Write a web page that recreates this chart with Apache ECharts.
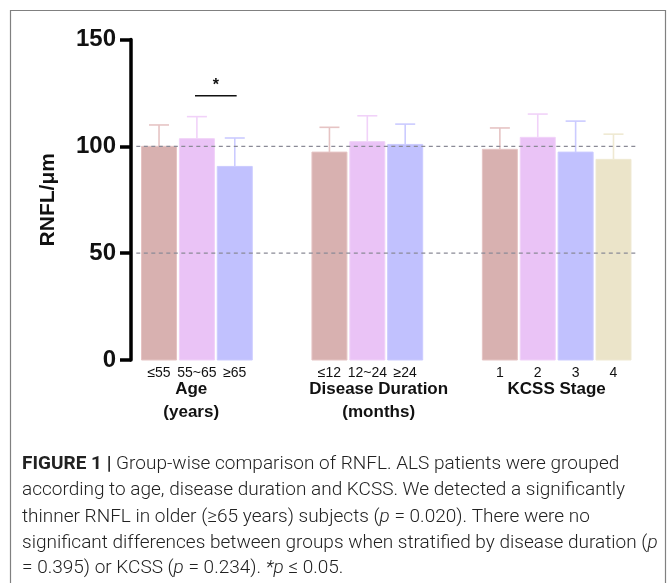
<!DOCTYPE html>
<html>
<head>
<meta charset="utf-8">
<style>html,body{margin:0;padding:0;background:#fff;}#c{width:667px;height:583px;}</style>
<script src="https://cdn.jsdelivr.net/npm/echarts@6/dist/echarts.min.js"></script>
</head>
<body>
<div id="c"></div>
<script>
// ---- data ----
var categories = ['≤55', '55~65', '≥65', '≤12', '12~24', '≥24', '1', '2', '3', '4'];
var positions  = [0, 1, 2, 4.5, 5.5, 6.5, 9, 10, 11, 12];
var means      = [100, 103.6, 90.6, 97.3, 102.2, 100.9, 98.6, 104.2, 97.3, 93.9];
var errTops    = [110, 113.9, 103.9, 108.9, 114.3, 110.4, 108.6, 115.1, 111.8, 105.7];
var colorIdx   = [0, 1, 2, 0, 1, 2, 0, 1, 2, 3];
var groupNames = [['Age', '(years)'], ['Disease Duration', '(months)'], ['KCSS Stage']];
var groupCenters = [0.85, 5.8, 10.5];
var refLines   = [100, 50];
var yTicks     = [0, 50, 100, 150];
var sigPair    = [1, 2];
var sigY       = 123.7;

var barColors = ['#d8b1b0', '#eac3f6', '#c1c1fe', '#ebe4c9'];
var errColors = ['#e6c4c4', '#f1d2f9', '#cbcbff', '#efe9d2'];

var chart = echarts.init(document.getElementById('c'), null, {renderer: 'canvas'});

var barData = positions.map(function (p, i) { return [p, means[i], errTops[i], colorIdx[i], categories[i]]; });

var FS = 19;
function rich() {
  return {
    b: {fontFamily: 'Roboto', fontWeight: 'bold', fontSize: FS, color: '#222'},
    i: {fontFamily: 'Roboto', fontWeight: 300, fontStyle: 'italic', fontSize: FS, color: '#222'}
  };
}
function cap(y, t) {
  return {type: 'text', x: 0, y: y, style: {rich: rich(), text: t, fontFamily: 'Roboto', fontWeight: 300, fontSize: FS, fill: '#222'}};
}

var option = {
  animation: false,
  grid: {left: 131, right: 27, top: 39.5, bottom: 223, containLabel: false},
  xAxis: {
    type: 'value', min: -0.74, max: 12.7,
    axisLine: {show: false}, axisTick: {show: false}, axisLabel: {show: false}, splitLine: {show: false}
  },
  yAxis: {
    type: 'value', min: 0, max: 150, interval: 50,
    name: 'RNFL/μm', nameLocation: 'middle', nameGap: 72, nameRotate: 90,
    nameTextStyle: {fontFamily: 'Liberation Sans', fontWeight: 'bold', fontSize: 21, color: '#111', padding: [0, 0, 0, 0]},
    axisLine: {show: true, onZero: false, lineStyle: {color: '#000', width: 3.5}},
    axisTick: {show: true, length: 11, inside: false, lineStyle: {color: '#000', width: 3.5}},
    axisLabel: {fontFamily: 'Liberation Sans', fontWeight: 'bold', fontSize: 24, color: '#111', margin: 15},
    splitLine: {show: false}
  },
  series: [
    {
      type: 'custom',
      z: 2,
      data: barData,
      renderItem: function (params, api) {
        var x = api.value(0), m = api.value(1), e = api.value(2), ci = api.value(3);
        var base = api.coord([x, 0]);
        var top = api.coord([x, m]);
        var et = api.coord([x, e]);
        var w = 35;
        return {type: 'group', children: [
          {type: 'rect', shape: {x: base[0] - w / 2, y: top[1], width: w, height: base[1] - top[1]},
           style: {fill: barColors[ci], stroke: errColors[ci], lineWidth: 1}},
          {type: 'line', shape: {x1: base[0], y1: top[1], x2: base[0], y2: et[1]},
           style: {stroke: errColors[ci], lineWidth: 1.6}},
          {type: 'line', shape: {x1: base[0] - 10, y1: et[1], x2: base[0] + 10, y2: et[1]},
           style: {stroke: errColors[ci], lineWidth: 1.6}},
          {type: 'text', x: base[0], y: base[1] + 13,
           style: {text: categories[params.dataIndex], fontFamily: 'Liberation Sans', fontSize: 14, fill: '#111', align: 'center', verticalAlign: 'middle'}}
        ]};
      }
    },
    {
      type: 'custom',
      z: 3,
      data: refLines.map(function (v) { return [v]; }),
      renderItem: function (params, api) {
        var a = api.coord([-0.6, api.value(0)]);
        var b = api.coord([12.6, api.value(0)]);
        return {type: 'line', shape: {x1: a[0], y1: a[1], x2: b[0], y2: b[1]},
          style: {stroke: '#8a8a96', lineWidth: 1.3, lineDash: [4, 3.5]}};
      }
    },
    {
      type: 'custom',
      z: 4,
      data: [[sigPair[0], sigPair[1], sigY]],
      renderItem: function (params, api) {
        var a = api.coord([api.value(0) - 0.05, api.value(2)]);
        var b = api.coord([api.value(1) + 0.05, api.value(2)]);
        return {type: 'group', children: [
          {type: 'line', shape: {x1: a[0], y1: a[1], x2: b[0], y2: b[1]}, style: {stroke: '#111', lineWidth: 1.5}},
          {type: 'text', x: (a[0] + b[0]) / 2, y: a[1] - 10,
           style: {text: '*', fontFamily: 'Liberation Sans', fontWeight: 'bold', fontSize: 16, fill: '#111', align: 'center', verticalAlign: 'middle'}}
        ]};
      }
    },
    {
      type: 'custom',
      z: 4,
      data: groupCenters.map(function (c, i) { return [c, i]; }),
      renderItem: function (params, api) {
        var p = api.coord([api.value(0), 0]);
        var names = groupNames[params.dataIndex];
        return {type: 'group', children: names.map(function (t, k) {
          return {type: 'text', x: p[0], y: p[1] + 29 + k * 23,
            style: {text: t, fontFamily: 'Liberation Sans', fontWeight: 'bold', fontSize: 17, fill: '#111', align: 'center', verticalAlign: 'middle'}};
        })};
      }
    }
  ],
  graphic: [
    {type: 'rect', shape: {x: 10.5, y: 10.5, width: 655, height: 600}, style: {fill: 'none', stroke: '#808080', lineWidth: 1.2}, z: 0},
    {type: 'group', left: 22, top: 455, children: [
      cap(0, '{b|FIGURE 1 |} Group-wise comparison of RNFL. ALS patients were grouped'),
      cap(26, 'according to age, disease duration and KCSS. We detected a significantly'),
      cap(52.5, 'thinner RNFL in older (≥65 years) subjects ({i|p} = 0.020). There were no'),
      cap(78.5, 'significant differences between groups when stratified by disease duration ({i|p}'),
      cap(104, '= 0.395) or KCSS ({i|p} = 0.234). {i|*p} ≤ 0.05.')
    ]}
  ]
};

chart.setOption(option);
</script>
</body>
</html>
